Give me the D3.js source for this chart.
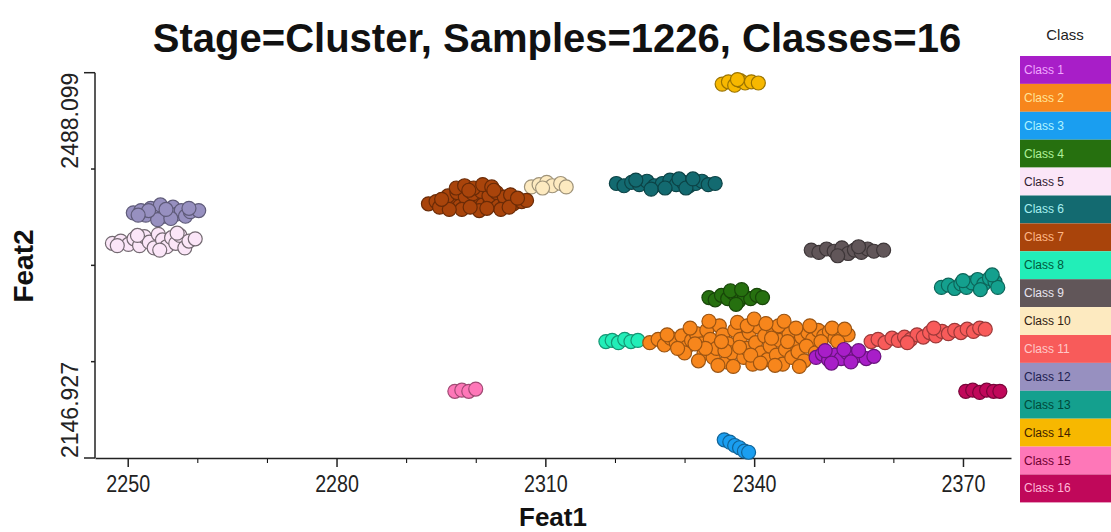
<!DOCTYPE html>
<html>
<head>
<meta charset="utf-8">
<script src="https://cdn.jsdelivr.net/npm/d3@7"></script>
<style>
  body { margin: 0; background: #fff; }
  text { font-family: "Liberation Sans", Arial, sans-serif; }
</style>
</head>
<body>
<svg width="1111" height="532"></svg>
<script>
// cluster points per class, [Feat1, Feat2]
var class1 = [[2348.9,2236],[2349.8,2239],[2350.7,2234],[2351.6,2238],[2352.5,2235],[2353.4,2240],[2354.3,2236],[2355.2,2238],[2356.1,2235],[2357.2,2237],[2350.2,2242],[2352.9,2243],[2355.0,2242],[2351.1,2231],[2353.9,2232]];
var class2 = [[2325.0,2249],[2326.2,2252],[2327.1,2247],[2328.0,2253],[2328.8,2249],[2329.6,2255],[2330.3,2245],[2331.0,2251],[2331.7,2257],
  [2332.4,2248],[2332.8,2240],[2333.2,2260],[2333.7,2252],[2334.1,2236],[2334.6,2244],[2335.0,2264],[2335.5,2256],[2336.0,2232],[2336.3,2248],[2336.8,2240],
  [2337.2,2260],[2337.6,2267],[2338.0,2252],[2338.5,2236],[2338.9,2244],[2339.3,2258],[2339.8,2230],[2340.2,2249],[2340.6,2263],[2341.0,2240],
  [2341.5,2255],[2341.9,2234],[2342.3,2246],[2342.8,2260],[2343.2,2238],[2343.7,2251],[2344.1,2230],[2344.5,2243],[2345.0,2257],[2345.4,2236],
  [2345.9,2248],[2346.3,2241],[2346.8,2254],[2347.2,2233],[2347.7,2258],[2348.4,2252],[2349.2,2260],[2350.0,2255],[2350.8,2259],[2351.6,2253],
  [2352.5,2258],[2353.5,2256],[2333.0,2244],[2335.8,2242],[2339.0,2264],[2343.5,2264],
  [2330.0,2240],[2330.8,2262],[2332.0,2233],[2333.5,2268],[2334.8,2229],[2335.3,2250],[2337.0,2228],[2337.9,2245],[2339.5,2238],[2340.0,2270],
  [2340.9,2231],[2341.7,2266],[2342.5,2253],[2343.0,2229],[2344.3,2268],[2344.8,2250],[2346.0,2262],[2346.5,2228],[2347.5,2246],[2348.0,2264],
  [2348.8,2240],[2349.6,2250],[2351.2,2262],[2352.0,2250],[2353.0,2261],[2327.5,2256],[2329.0,2244],[2331.5,2248]];
var class3 = [[2335.7,2163],[2336.5,2161],[2337.2,2158],[2337.9,2156],[2338.6,2153],[2339.2,2152]];
var class4 = [[2333.5,2289],[2334.4,2287],[2335.3,2291],[2336.2,2288],[2337.0,2293],[2337.8,2286],[2338.6,2290],[2339.5,2288],[2340.4,2291],[2341.2,2289],[2336.6,2295],[2338.2,2296],[2337.4,2283]];
var class5 = [[2247.8,2337],[2249.0,2339],[2250.1,2336],[2250.9,2341],[2251.7,2335],[2252.4,2343],[2253.1,2338],[2253.8,2333],[2254.4,2345],[2255.0,2340],[2255.6,2334],[2256.3,2342],[2256.9,2337],[2257.5,2344],[2258.2,2333],[2258.8,2339],[2259.7,2341],[2251.4,2344],[2254.6,2331],[2257.1,2346],[2248.5,2335]];
var class6 = [[2320.2,2390],[2321.3,2388],[2322.4,2391],[2323.5,2389],[2324.6,2392],[2325.7,2388],[2326.8,2390],[2327.9,2393],[2328.8,2389],[2329.8,2391],[2330.7,2388],[2331.6,2390],[2332.5,2392],[2333.4,2389],[2334.4,2390],[2325.2,2385],[2327.2,2386],[2329.2,2394],[2330.2,2386],[2323.0,2393],[2331.2,2394]];
var class7 = [[2293.2,2372],[2294.3,2374],[2295.5,2371],[2296.6,2375],[2297.7,2370],[2298.8,2373],[2299.9,2376],[2301.0,2371],[2302.1,2374],[2303.2,2370],[2304.3,2373],[2305.4,2372],[2306.6,2374],[2307.3,2375],
  [2296.0,2379],[2297.3,2382],[2298.5,2378],[2299.6,2381],[2300.8,2383],[2301.9,2379],[2303.0,2382],[2304.1,2378],[2305.0,2380],
  [2297.2,2386],[2298.4,2388],[2299.7,2386],[2301.0,2389],[2302.3,2387],[2298.0,2367],[2300.5,2366],[2303.6,2367],
  [2294.8,2369],[2296.2,2367],[2299.2,2369],[2301.6,2368],[2304.8,2369],[2306.0,2377],[2302.6,2384],[2299.0,2384],[2295.1,2376]];
var class8 = [[2318.7,2250],[2319.6,2251],[2320.5,2249],[2321.4,2252],[2322.3,2250],[2323.3,2251]];
var class9 = [[2348.2,2331],[2349.3,2329],[2350.4,2332],[2351.5,2330],[2352.6,2333],[2353.5,2328],[2354.4,2331],[2355.4,2329],[2356.3,2332],[2357.2,2330],[2358.6,2331],[2352.0,2326],[2355.0,2334]];
var class10 = [[2308.0,2387],[2309.1,2389],[2310.2,2391],[2311.0,2388],[2312.2,2390],[2313.0,2387],[2309.6,2386]];
var class11 = [[2356.8,2250],[2357.8,2252],[2358.8,2249],[2359.8,2253],[2360.7,2251],[2361.6,2254],[2362.5,2252],[2363.4,2256],[2364.3,2254],[2365.2,2258],[2366.1,2255],[2367.0,2259],[2367.9,2257],[2368.8,2260],[2369.7,2258],[2370.6,2261],[2371.5,2259],[2372.4,2262],[2373.2,2261],[2362.0,2249],[2365.8,2262]];
var class12 = [[2250.8,2364],[2251.9,2366],[2252.6,2362],[2253.3,2368],[2254.0,2364],[2254.7,2371],[2255.3,2361],[2255.9,2366],[2256.5,2369],[2257.1,2363],[2257.7,2366],[2258.3,2361],[2259.0,2365],[2260.2,2366],[2254.3,2358],[2256.2,2359],[2253.0,2366],[2255.5,2367],[2258.8,2368],[2251.5,2362]];
var class13 = [[2366.9,2298],[2367.9,2300],[2368.8,2297],[2369.7,2301],[2370.5,2298],[2371.3,2302],[2372.1,2305],[2373.0,2301],[2373.8,2306],[2374.6,2303],[2375.0,2298],[2372.5,2296],[2370.0,2304],[2374.2,2309]];
var class14 = [[2335.4,2478],[2336.3,2480],[2337.2,2477],[2338.0,2481],[2338.7,2479],[2339.6,2480],[2340.6,2479],[2337.6,2482]];
var class15 = [[2297.0,2206],[2298.0,2207],[2299.0,2206],[2300.0,2208]];
var class16 = [[2370.4,2206],[2371.4,2207],[2372.4,2205],[2373.4,2207],[2374.4,2206],[2375.3,2206]];

var classNames = ["Class 1", "Class 2", "Class 3", "Class 4", "Class 5", "Class 6", "Class 7", "Class 8",
  "Class 9", "Class 10", "Class 11", "Class 12", "Class 13", "Class 14", "Class 15", "Class 16"];
var classColors = ["#a81ec8", "#f7861c", "#1a9ef0", "#26700f", "#fbe6f8", "#136a70", "#a9440b", "#22eeb8",
  "#615659", "#fdeac0", "#f85b5a", "#9790c0", "#14a08e", "#f7b800", "#fe77b8", "#c0085a"];
var legendText = ["#f0a8ff", "#ffe49a", "#b0f4ff", "#b0f09a", "#302030", "#a8f0f0", "#ffb888", "#005a3c",
  "#e8e4f0", "#302010", "#ffc8c8", "#202050", "#004a3a", "#402000", "#700030", "#ffb8d8"];
var classPoints = [class1, class2, class3, class4, class5, class6, class7, class8,
  class9, class10, class11, class12, class13, class14, class15, class16];

var xMajor = [2250, 2280, 2310, 2340, 2370];
var xMinor = [2260, 2270, 2290, 2300, 2320, 2330, 2350, 2360];
var yMin = 2146.927, yMax = 2488.099;

var svg = d3.select("svg");
var width = +svg.attr("width");

svg.append("rect").attr("width", width).attr("height", 532).attr("fill", "#fff");

var x = d3.scaleLinear().domain([2245.3, 2376.9]).range([95, 1011]);
var y = d3.scaleLinear().domain([yMin, yMax]).range([458, 72.7]);

// title
svg.append("text")
  .attr("x", 557).attr("y", 52)
  .attr("text-anchor", "middle")
  .style("font-size", "40px").style("font-weight", "bold")
  .attr("fill", "#111")
  .text("Stage=Cluster, Samples=1226, Classes=16");

// x axis: minor ticks first, then major with labels
svg.append("g")
  .attr("transform", "translate(0,458)")
  .call(d3.axisBottom(x).tickValues(xMinor).tickSize(5).tickSizeOuter(0).tickFormat(""))
  .call(g => g.select(".domain").remove());

var xAxis = svg.append("g")
  .attr("transform", "translate(0,458)")
  .call(d3.axisBottom(x).tickValues(xMajor).tickSize(9).tickSizeOuter(0).tickPadding(8).tickFormat(d3.format("d")));
xAxis.selectAll("text")
  .style("font-size", "24px").attr("fill", "#222")
  .attr("transform", "scale(0.82,1)");
xAxis.selectAll("line, path").attr("stroke", "#222").attr("stroke-width", 1.5);

// y axis: only ends get labels
var yTicks = d3.range(5).map(i => yMin + i * (yMax - yMin) / 4);
var yAxis = svg.append("g").attr("transform", "translate(95,0)");
yAxis.append("line")
  .attr("y1", y(yMin)).attr("y2", y(yMax))
  .attr("stroke", "#222").attr("stroke-width", 1.5);
yAxis.selectAll(".tick")
  .data(yTicks)
  .enter()
  .append("line")
  .attr("x1", (d, i) => (i == 0 || i == 4) ? -11 : -4)
  .attr("x2", 0)
  .attr("y1", d => y(d)).attr("y2", d => y(d))
  .attr("stroke", "#222").attr("stroke-width", 1.5);

svg.append("text")
  .attr("transform", "translate(78," + y(yMax) + ") rotate(-90)")
  .attr("text-anchor", "end")
  .style("font-size", "23px").attr("fill", "#222")
  .text(d3.format(".3f")(yMax));
svg.append("text")
  .attr("transform", "translate(78," + y(yMin) + ") rotate(-90)")
  .attr("text-anchor", "start")
  .style("font-size", "23px").attr("fill", "#222")
  .text(d3.format(".3f")(yMin));

// axis titles
svg.append("text")
  .attr("x", 553).attr("y", 526)
  .attr("text-anchor", "middle")
  .style("font-size", "26px").style("font-weight", "bold").attr("fill", "#111")
  .text("Feat1");
svg.append("text")
  .attr("transform", "translate(33,266) rotate(-90)")
  .attr("text-anchor", "middle")
  .style("font-size", "28px").style("font-weight", "bold").attr("fill", "#111")
  .text("Feat2");

// points, last class first so class 1 sits on top
var order = d3.range(16).reverse();
order.forEach(function(k) {
  svg.append("g")
    .selectAll("circle")
    .data(classPoints[k])
    .enter()
    .append("circle")
    .attr("cx", d => x(d[0]))
    .attr("cy", d => y(d[1]))
    .attr("r", 7)
    .attr("fill", classColors[k])
    .attr("stroke", d3.color(classColors[k]).darker(k == 4 ? 2.2 : 1.3))
    .attr("stroke-width", 1.2);
});

// legend
svg.append("text")
  .attr("x", 1065).attr("y", 40)
  .attr("text-anchor", "middle")
  .style("font-size", "15px").attr("fill", "#222")
  .text("Class");

var rowH = 27.9;
var legend = svg.append("g")
  .selectAll("g")
  .data(classNames)
  .enter()
  .append("g")
  .attr("transform", (d, i) => "translate(1020," + (56 + i * rowH) + ")");
legend.append("rect")
  .attr("width", 91).attr("height", rowH)
  .attr("fill", (d, i) => classColors[i]);
legend.append("text")
  .attr("x", 4).attr("y", rowH / 2 + 4)
  .style("font-size", "12px")
  .attr("fill", (d, i) => legendText[i])
  .text(d => d);
</script>
</body>
</html>
